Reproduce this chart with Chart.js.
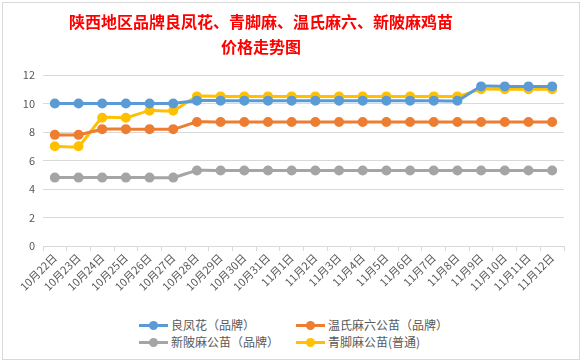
<!DOCTYPE html>
<html>
<head>
<meta charset="utf-8">
<script src="https://cdn.jsdelivr.net/npm/chart.js@4"></script>
<style>
  body { margin: 0; background: #fff; font-family: "Noto Sans CJK SC", sans-serif; }
  #box { position: absolute; left: 2px; top: 2px; width: 576px; height: 356px; border: 1px solid #d9d9d9; background: #fff; }
  #wrap { position: absolute; left: 0; top: 0; width: 575px; height: 300px; }
  #title { position: absolute; left: 0; top: 6px; width: 516px; text-align: center; color: #FF0000; font-weight: bold; font-size: 16px; line-height: 25px; }
  .leg { position: absolute; font-size: 12px; color: #595959; line-height: 16px; white-space: nowrap; }
  .leg i { position: absolute; top: 7px; height: 3px; width: 29px; left: -32px; }
  .leg i b { position: absolute; left: 10px; top: -3px; width: 9px; height: 9px; border-radius: 50%; }
</style>
</head>
<body>
<div id="box">
  <div id="wrap"><canvas id="chart"></canvas></div>
  <div id="title">陕西地区品牌良凤花、青脚麻、温氏麻六、新陂麻鸡苗<br>价格走势图</div>
  <div id="legend"></div>
</div>
<script>
// Data
const dates = ["10月22日","10月23日","10月24日","10月25日","10月26日","10月27日","10月28日","10月29日","10月30日","10月31日",
  "11月1日","11月2日","11月3日","11月4日","11月5日","11月6日","11月7日","11月8日","11月9日","11月10日","11月11日","11月12日"];
const liangfenghua = [10,10,10,10,10,10,10.2,10.2,10.2,10.2,10.2,10.2,10.2,10.2,10.2,10.2,10.2,10.2,11.2,11.2,11.2,11.2];
const wenshi = [7.8,7.8,8.2,8.2,8.2,8.2,8.7,8.7,8.7,8.7,8.7,8.7,8.7,8.7,8.7,8.7,8.7,8.7,8.7,8.7,8.7,8.7];
const xinpi = [4.8,4.8,4.8,4.8,4.8,4.8,5.3,5.3,5.3,5.3,5.3,5.3,5.3,5.3,5.3,5.3,5.3,5.3,5.3,5.3,5.3,5.3];
const qingjiao = [7,7,9,9,9.5,9.5,10.5,10.5,10.5,10.5,10.5,10.5,10.5,10.5,10.5,10.5,10.5,10.5,11,11,11,11];

const series = [
  { name: "良凤花（品牌）", data: liangfenghua, color: "#5B9BD5", x: 168, y: 314 },
  { name: "温氏麻六公苗（品牌）", data: wenshi, color: "#ED7D31", x: 325, y: 314 },
  { name: "新陂麻公苗（品牌）", data: xinpi, color: "#A5A5A5", x: 168, y: 331 },
  { name: "青脚麻公苗(普通)", data: qingjiao, color: "#FFC000", x: 325, y: 331 }
];

const font = { family: "'Noto Sans CJK SC', sans-serif", size: 11 };

new Chart(document.getElementById("chart"), {
  type: "line",
  data: {
    labels: dates,
    datasets: series.map(s => ({
      label: s.name,
      data: s.data,
      borderColor: s.color,
      backgroundColor: s.color,
      borderWidth: 3,
      pointRadius: 3.5,
      pointHoverRadius: 3.5,
      tension: 0.15
    }))
  },
  options: {
    responsive: true,
    maintainAspectRatio: false,
    animation: false,
    layout: { padding: { left: 0, right: 14, top: 72, bottom: 0 } },
    plugins: {
      legend: { display: false },
      tooltip: { enabled: false },
      title: { display: false }
    },
    scales: {
      x: {
        offset: true,
        grid: { offset: true, drawOnChartArea: false, drawTicks: true, tickLength: 5, color: "#d9d9d9" },
        border: { display: true, color: "#d9d9d9" },
        ticks: { color: "#595959", font: font, minRotation: 45, maxRotation: 45, autoSkip: false, padding: 0 },
        afterFit: (scale) => { scale.height = 57; }
      },
      y: {
        min: 0, max: 12,
        grid: { color: "#d9d9d9", drawTicks: false },
        border: { display: false },
        ticks: { stepSize: 2, color: "#595959", font: font, padding: 8 },
        afterFit: (scale) => { scale.width = 40; }
      }
    }
  }
});

// Legend (2 x 2 like the original)
const legend = document.getElementById("legend");
series.forEach(s => {
  legend.innerHTML += `<div class="leg" style="left:${s.x}px; top:${s.y}px">
    <i style="background:${s.color}"><b style="background:${s.color}"></b></i>${s.name}</div>`;
});
</script>
</body>
</html>
